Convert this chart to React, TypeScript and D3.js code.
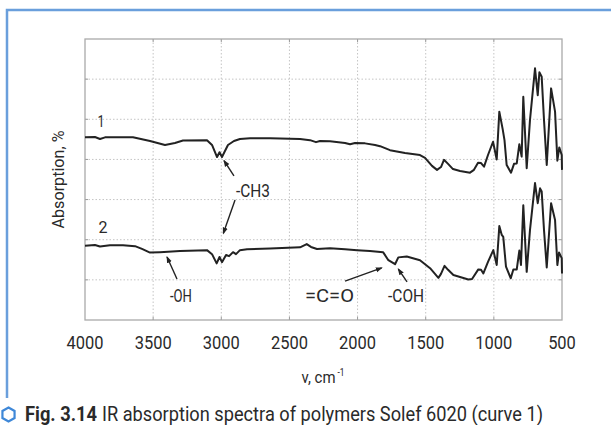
import React from 'react';
import * as d3 from 'd3';

// curve 1 (Solef 6020) and curve 2
const wavenumber1 = [4000, 3927, 3890, 3853, 3648, 3523, 3413, 3340, 3281, 3105, 3068, 3031, 3013, 2995, 2951, 2907, 2863, 2789, 2642, 2422, 2349, 2305, 2276, 2202, 2092, 2055, 2019, 1945, 1872, 1835, 1762, 1652, 1542, 1505, 1454, 1417, 1388, 1366, 1336, 1300, 1248, 1175, 1146, 1116, 1094, 1072, 1043, 1006, 979, 960, 935, 922, 906, 874, 852, 832, 813, 796, 784, 759, 735, 698, 678, 666, 649, 632, 612, 580, 551, 534, 520, 502, 500];
const absorption1 = [45.5, 45.6, 45.1, 45.5, 45.5, 44.6, 43.6, 44.1, 44.7, 44.8, 43.6, 40.6, 41.8, 40.6, 43.6, 44.6, 45.1, 45.3, 45.3, 45.1, 44.8, 44.3, 44.6, 44.5, 44.1, 43.8, 44.1, 44.0, 43.6, 43.3, 42.3, 41.6, 41.1, 40.4, 38.4, 37.4, 38.1, 39.9, 38.9, 37.6, 37.1, 36.7, 37.4, 39.2, 39.1, 38.2, 41.1, 44.4, 40.0, 51.9, 47.5, 44.8, 38.6, 36.7, 38.9, 39.0, 43.8, 40.7, 55.6, 37.8, 49.8, 62.7, 56.0, 61.7, 60.6, 49.8, 38.6, 57.7, 51.9, 39.7, 43.0, 41.1, 37.4];

const wavenumber2 = [4000, 3927, 3890, 3817, 3721, 3633, 3582, 3523, 3450, 3303, 3105, 3068, 3034, 3013, 2995, 2965, 2943, 2914, 2892, 2863, 2811, 2642, 2422, 2373, 2342, 2298, 2202, 2092, 2004, 1909, 1813, 1774, 1725, 1701, 1639, 1542, 1468, 1407, 1388, 1362, 1336, 1297, 1187, 1160, 1114, 1094, 1077, 1043, 1004, 979, 960, 942, 931, 911, 876, 857, 832, 813, 801, 784, 759, 735, 698, 678, 661, 649, 632, 612, 580, 551, 534, 522, 502, 500];
const absorption2 = [18.5, 18.7, 18.3, 18.6, 18.6, 18.4, 17.7, 16.8, 16.9, 17.2, 17.4, 16.4, 14.1, 15.7, 14.4, 16.2, 15.9, 16.9, 16.4, 17.4, 17.6, 17.8, 18.1, 18.9, 18.2, 17.7, 17.9, 17.6, 17.4, 17.2, 16.9, 14.9, 13.9, 15.6, 15.8, 14.9, 12.9, 10.5, 11.5, 13.5, 12.5, 11.2, 10.1, 10.2, 12.6, 12.5, 11.6, 14.5, 17.4, 13.7, 23.4, 21.2, 20.7, 13.3, 10.4, 12.6, 12.6, 17.3, 13.7, 28.6, 12.0, 22.4, 34.1, 29.1, 32.8, 32.0, 22.4, 13.1, 29.1, 24.9, 13.7, 16.8, 15.4, 11.6];

const xTicks = [4000, 3500, 3000, 2500, 2000, 1500, 1000, 500];
const yGrid = [10, 20, 30, 40, 50, 60];

// group labels: [text, wavenumber, value]
const labels: [string, number, number][] = [
  ['1', 3883, 48.1],
  ['2', 3868, 21.7],
  ['-CH3', 2767, 30.6],
  ['-OH', 3296, 4.5],
  ['=C=O', 2206, 4.5],
  ['-COH', 1644, 4.5],
];
// leader lines: [x1, y1, x2, y2] in wavenumber / value
const leaders: [number, number, number, number][] = [
  [2907, 35.9, 2980, 39.7],
  [2899, 29.9, 2985, 21.6],
  [3325, 10.2, 3398, 15.7],
  [2092, 9.7, 1823, 13.0],
  [1637, 9.5, 1701, 12.7],
];

const W = 611;
const H = 425;
const font = 'Roboto, "Noto Sans", sans-serif';
const ink = '#2a2a2a';

// the source uses a condensed face: squeeze text to the width it has there
const T: React.FC<{ x: number; y: number; w: number; size: number; anchor?: string; weight?: string; children: React.ReactNode }> =
  ({ x, y, w, size, anchor = 'start', weight = 'normal', children }) => (
    <text x={x} y={y} textAnchor={anchor} fontSize={size} fontWeight={weight} fill={ink}
      textLength={w} lengthAdjust="spacingAndGlyphs">{children}</text>
  );

const App: React.FC = () => {
  const x = d3.scaleLinear().domain([4000, 500]).range([85, 562]);
  const y = d3.scaleLinear().domain([0, 70]).range([320, 39]);

  const line = d3.line<[number, number]>()
    .x(d => x(d[0]))
    .y(d => y(d[1]));

  const c1 = line(wavenumber1.map((w, i) => [w, absorption1[i]]))!;
  const c2 = line(wavenumber2.map((w, i) => [w, absorption2[i]]))!;

  const hex = d3.range(6).map(i => {
    const a = (Math.PI / 3) * i - Math.PI / 2;
    return `${8.5 + 7 * Math.cos(a)},${414.5 + 7 * Math.sin(a)}`;
  }).join(' ');

  const labelW: Record<string, number> = { '1': 7, '2': 9, '-CH3': 34, '-OH': 22, '=C=O': 49, '-COH': 36 };
  const xMid = (x(4000) + x(500)) / 2;

  return (
    <svg width={W} height={H} style={{ position: 'absolute', left: 0, top: 0, background: '#fff' }}
      fontFamily={font}>
      <defs>
        <marker id="arr" viewBox="0 0 6 6" refX="5" refY="3" markerWidth="5" markerHeight="5" orient="auto">
          <path d="M0,0.8 L6,3 L0,5.2 Z" fill="#222" />
        </marker>
      </defs>

      {/* blue frame */}
      <path d="M7,398 V10 H611" fill="none" stroke="#6a9fdc" strokeWidth={2.5} />

      {/* grid */}
      {xTicks.slice(1, -1).map(t => (
        <line key={'v' + t} x1={x(t)} x2={x(t)} y1={y(70)} y2={y(0)}
          stroke="#c4c4c4" strokeDasharray="1.5,2" />
      ))}
      {yGrid.map(t => (
        <line key={'h' + t} x1={x(4000)} x2={x(500)} y1={y(t)} y2={y(t)}
          stroke="#c4c4c4" strokeDasharray="1.5,2" />
      ))}
      {xTicks.slice(1, -1).map(t => (
        <g key={'t' + t} stroke="#999">
          <line x1={x(t)} x2={x(t)} y1={y(70)} y2={y(70) + 3} />
          <line x1={x(t)} x2={x(t)} y1={y(0)} y2={y(0) - 3} />
        </g>
      ))}
      {yGrid.map(t => (
        <g key={'yt' + t} stroke="#999">
          <line x1={x(4000)} x2={x(4000) + 3} y1={y(t)} y2={y(t)} />
          <line x1={x(500)} x2={x(500) - 3} y1={y(t)} y2={y(t)} />
        </g>
      ))}
      <rect x={x(4000)} y={y(70)} width={x(500) - x(4000)} height={y(0) - y(70)}
        fill="none" stroke="#aaa" strokeWidth={1.3} />

      {/* spectra */}
      <path d={c1} fill="none" stroke="#222" strokeWidth={2} strokeLinejoin="round" />
      <path d={c2} fill="none" stroke="#222" strokeWidth={2} strokeLinejoin="round" />

      {leaders.map((l, i) => (
        <line key={'l' + i} x1={x(l[0])} y1={y(l[1])} x2={x(l[2])} y2={y(l[3])}
          stroke="#222" strokeWidth={1.4} markerEnd="url(#arr)" />
      ))}
      {labels.map(([t, w, v]) => (
        <T key={t} x={x(w)} y={y(v)} w={labelW[t]} size={t.length === 1 ? 17 : 19} anchor="middle">{t}</T>
      ))}

      {/* axes text */}
      {xTicks.map(t => (
        <T key={'x' + t} x={x(t)} y={349} w={String(t).length * 9.25} size={18} anchor="middle">{t}</T>
      ))}
      <T x={xMid - 22} y={383} w={34} size={16}>v, cm</T>
      <T x={xMid + 14} y={376} w={7} size={10}>-1</T>
      <g transform={`translate(64,${(y(0) + y(70)) / 2}) rotate(-90)`}>
        <T x={0} y={0} w={98} size={17} anchor="middle">Absorption, %</T>
      </g>

      {/* caption */}
      <polygon points={hex} fill="#fff" stroke="#3f88d8" strokeWidth={2.2} />
      <T x={25} y={421} w={72} size={20} weight="bold">Fig. 3.14</T>
      <T x={102} y={421} w={441} size={20}>IR absorption spectra of polymers Solef 6020 (curve 1)</T>
    </svg>
  );
};

export default App;
